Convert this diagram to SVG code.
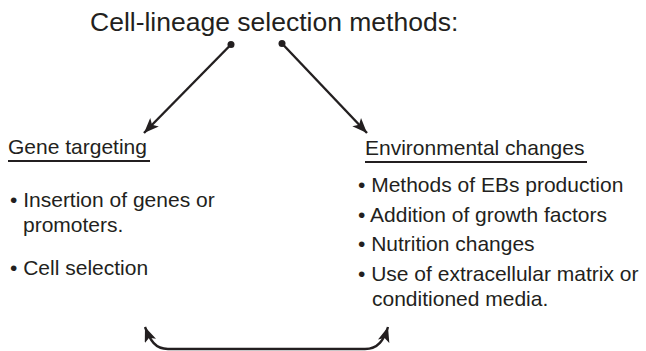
<svg xmlns="http://www.w3.org/2000/svg" width="646" height="351" viewBox="0 0 646 351">
<style>
text{font-family:"Liberation Sans",Arial,sans-serif;fill:#231f20}
.t{font-size:26.5px}
.b{font-size:21px}
.ln{stroke:#231f20;stroke-width:2.4;fill:none}
.ul{stroke:#231f20;stroke-width:2}
</style>
<defs>
<marker id="ah" markerUnits="userSpaceOnUse" markerWidth="18" markerHeight="14" refX="15" refY="6" orient="auto-start-reverse" viewBox="0 0 18 14">
<path d="M0,0 L15,6 L0,12 L3.5,6 Z" fill="#231f20"/>
</marker>
</defs>
<g id="title">
<text class="t" x="90" y="31">Cell-lineage selection methods:</text>
</g>
<g id="gene-targeting">
<text class="b" x="8" y="154">Gene targeting</text>
<line class="ul" x1="8" y1="161" x2="150" y2="161"/>
<text class="b" x="10" y="207">• Insertion of genes or</text>
<text class="b" x="23" y="232">promoters.</text>
<text class="b" x="10" y="275">• Cell selection</text>
</g>
<g id="environmental-changes">
<text class="b" x="365" y="155">Environmental changes</text>
<line class="ul" x1="365" y1="162" x2="587" y2="162"/>
<text class="b" x="358" y="192">• Methods of EBs production</text>
<text class="b" x="358" y="222">• Addition of growth factors</text>
<text class="b" x="358" y="251">• Nutrition changes</text>
<text class="b" x="358" y="281">• Use of extracellular matrix or</text>
<text class="b" x="372" y="306">conditioned media.</text>
</g>
<g id="connectors">
<circle cx="231" cy="44.5" r="3.5" fill="#231f20"/>
<circle cx="282" cy="43.5" r="3.5" fill="#231f20"/>
<line class="ln" x1="231" y1="44.5" x2="144" y2="133" marker-end="url(#ah)"/>
<line class="ln" x1="282" y1="43.5" x2="367" y2="133" marker-end="url(#ah)"/>
<path class="ln" d="M145,327 C150,340 155,349 168,349 L365,349 C378,349 384,340 388,327" marker-start="url(#ah)" marker-end="url(#ah)"/>
</g>
</svg>
